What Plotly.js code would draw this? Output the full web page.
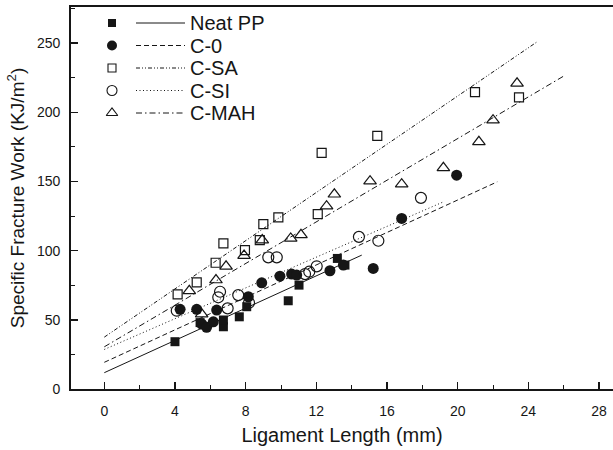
<!DOCTYPE html>
<html><head><meta charset="utf-8">
<script src="https://cdn.plot.ly/plotly-3.0.1.min.js"></script>
<style>html,body{margin:0;padding:0;background:#fff}#chart{width:613px;height:450px}</style>
</head><body><div id="chart"></div>
<script>
// ---- data ----
const seriesNames = ['Neat PP', 'C-0', 'C-SA', 'C-SI', 'C-MAH'];

const neatX = [4.0, 5.42, 6.74, 6.74, 7.64, 8.06, 10.41, 11.02, 13.19, 13.62];
const neatY = [34.2, 48.0, 45.0, 49.9, 52.2, 59.5, 63.8, 75.1, 94.4, 89.6];

const c0X = [4.29, 5.23, 5.51, 5.79, 6.17, 6.36, 8.15, 8.91, 9.94, 10.6, 10.89, 12.77, 13.53, 15.22, 16.83, 19.94];
const c0Y = [57.6, 57.6, 47.0, 44.6, 48.6, 57.1, 66.7, 76.8, 81.6, 83.1, 82.4, 85.5, 89.6, 87.2, 123.3, 154.6];

const csaX = [4.15, 5.23, 6.3, 6.74, 7.96, 8.8, 9.0, 9.85, 12.08, 12.3, 15.45, 20.98, 23.47];
const csaY = [68.4, 77.1, 91.3, 105.3, 100.4, 107.7, 119.2, 124.1, 126.4, 170.7, 183.0, 214.6, 210.8];

const csiX = [4.1, 6.45, 6.55, 6.98, 7.58, 8.19, 9.28, 9.76, 11.36, 11.6, 12.02, 14.41, 15.51, 17.92];
const csiY = [56.6, 66.3, 70.3, 58.3, 67.9, 62.4, 95.2, 95.2, 83.1, 84.8, 88.7, 110.0, 107.2, 138.2];

const cmahX = [4.81, 5.51, 6.32, 6.89, 7.91, 8.94, 10.55, 11.13, 12.58, 13.02, 15.04, 16.83, 19.19, 21.2, 22.0, 23.36];
const cmahY = [71.0, 54.2, 78.8, 88.7, 96.5, 107.7, 108.9, 111.5, 132.2, 140.8, 150.3, 148.1, 159.9, 178.7, 194.4, 221.0];

// fitted lines (end points)
const fitNeatX = [0, 14.57];  const fitNeatY = [11.8, 96.8];
const fitC0X   = [0, 22.24];  const fitC0Y   = [19.3, 149.8];
const fitCsaX  = [0, 24.47];  const fitCsaY  = [37.5, 250.8];
const fitCsiX  = [0, 19.19];  const fitCsiY  = [28.6, 135.3];
const fitCmahX = [0, 26.1];   const fitCmahY = [30.5, 227.0];

const xTickVals = [0, 4, 8, 12, 16, 20, 24, 28];
const yTickVals = [0, 50, 100, 150, 200, 250];

// ---- styles ----
const ink = '#161616';
const FONT = '"Liberation Sans", Arial, Helvetica, sans-serif';
const styles = [
  {symbol: 'square',           size: 9,  dash: 'solid'},
  {symbol: 'circle',           size: 11, dash: '5px,3px'},
  {symbol: 'square-open',      size: 9,  dash: '4px,2px,1px,2px,1px,2px'},
  {symbol: 'circle-open',      size: 11, dash: '1px,2.5px'},
  {symbol: 'triangle-up-open', size: 11, dash: '6px,3px,1.5px,3px'}
];
const pts = [[neatX, neatY], [c0X, c0Y], [csaX, csaY], [csiX, csiY], [cmahX, cmahY]];
const fits = [[fitNeatX, fitNeatY], [fitC0X, fitC0Y], [fitCsaX, fitCsaY], [fitCsiX, fitCsiY], [fitCmahX, fitCmahY]];

const traces = [];
fits.forEach((f, i) => {
  traces.push({x: f[0], y: f[1], type: 'scatter', mode: 'lines', showlegend: false,
    line: {color: ink, width: 1, dash: styles[i].dash}, hoverinfo: 'skip'});
});
pts.forEach((p, i) => {
  traces.push({x: p[0], y: p[1], type: 'scatter', mode: 'markers', name: seriesNames[i], showlegend: false,
    marker: {symbol: styles[i].symbol, size: styles[i].size, color: ink,
             line: {color: ink, width: styles[i].symbol.indexOf('open') >= 0 ? 1.2 : 0}}});
});

// ---- manual legend (overlay axes in pixel units) ----
const legRowPx = [23, 45.5, 68, 90.5, 113];
const legMarkPx = 112, legLine0 = 136, legLine1 = 185, legText = 188;
const shapes = [], annotations = [];
seriesNames.forEach((n, i) => {
  traces.push({x: [legMarkPx], y: [legRowPx[i]], xaxis: 'x2', yaxis: 'y2', type: 'scatter', mode: 'markers',
    showlegend: false, hoverinfo: 'skip', cliponaxis: false,
    marker: {symbol: styles[i].symbol, size: styles[i].size - 1, color: ink,
             line: {color: ink, width: styles[i].symbol.indexOf('open') >= 0 ? 1.1 : 0}}});
  shapes.push({type: 'line', xref: 'x2', yref: 'y2', x0: legLine0, x1: legLine1, y0: legRowPx[i], y1: legRowPx[i],
    line: {color: ink, width: 1, dash: styles[i].dash}});
  annotations.push({xref: 'x2', yref: 'y2', x: legText, y: legRowPx[i], text: n, showarrow: false,
    xanchor: 'left', yanchor: 'middle', font: {family: FONT, size: 20, color: ink}});
});

const layout = {
  width: 613, height: 450,
  margin: {l: 71, r: 0, t: 7, b: 61},
  paper_bgcolor: '#fff', plot_bgcolor: '#fff',
  font: {family: FONT, color: ink},
  showlegend: false,
  xaxis: {
    range: [-1.885, 28.79], tickvals: xTickVals, ticktext: xTickVals.map(String),
    showgrid: false, zeroline: false, showline: true, mirror: true, linecolor: ink, linewidth: 1.8,
    ticks: 'inside', ticklen: 7, tickwidth: 1.5, tickcolor: ink,
    minor: {dtick: 2, tick0: 0, ticks: 'inside', ticklen: 4, tickwidth: 1, tickcolor: ink},
    tickfont: {family: FONT, size: 14, color: ink}, ticklabelstandoff: 8,
    title: {text: 'Ligament Length (mm)', font: {family: FONT, size: 20, color: ink}, standoff: 10}
  },
  yaxis: {
    range: [0, 276.2], tickvals: yTickVals, ticktext: yTickVals.map(String),
    showgrid: false, zeroline: false, showline: true, mirror: false, linecolor: ink, linewidth: 1.8,
    ticks: 'inside', ticklen: 7, tickwidth: 1.5, tickcolor: ink,
    minor: {dtick: 25, tick0: 0, ticks: 'inside', ticklen: 4, tickwidth: 1, tickcolor: ink},
    tickfont: {family: FONT, size: 14, color: ink}, ticklabelstandoff: 6,
    title: {text: 'Specific Fracture Work (KJ/m<sup>2</sup>)', font: {family: FONT, size: 19, color: ink}, standoff: 7}
  },
  xaxis2: {overlaying: 'x', range: [71, 613], visible: false, fixedrange: true},
  yaxis2: {overlaying: 'y', range: [389, 7], visible: false, fixedrange: true},
  shapes: shapes,
  annotations: annotations
};

Plotly.newPlot('chart', traces, layout, {displayModeBar: false, staticPlot: true});
</script>
</body></html>
